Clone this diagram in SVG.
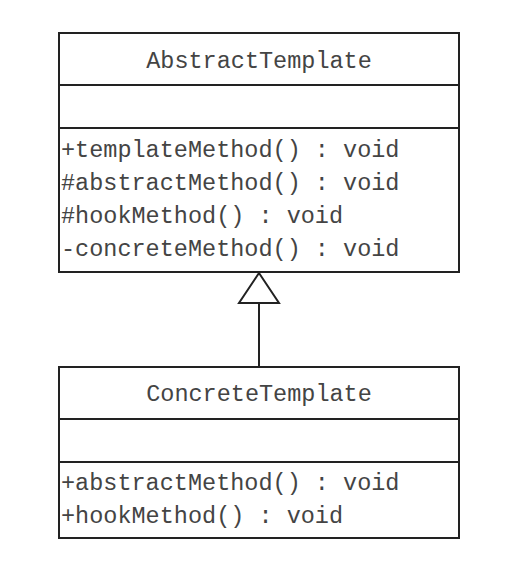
<svg xmlns="http://www.w3.org/2000/svg" width="526" height="570" viewBox="0 0 526 570">
<style>
.box{fill:#fff;stroke:#222;stroke-width:2}
.sep{stroke:#222;stroke-width:2}
.t{font-family:"Liberation Mono","DejaVu Sans Mono",monospace;font-size:23.5px;fill:#444}
.c{text-anchor:middle}
.conn{stroke:#222;stroke-width:2;fill:none}
</style>
<rect width="526" height="570" fill="#fff"/>
<g id="connectors">
<line class="conn" x1="259" y1="303" x2="259" y2="367"/>
<polygon class="conn" points="259,273 239,303 279,303" fill="#fff"/>
</g>
<g id="AbstractTemplate">
<rect class="box" x="59" y="33" width="400" height="239"/>
<line class="sep" x1="59" y1="85" x2="459" y2="85"/>
<line class="sep" x1="59" y1="128" x2="459" y2="128"/>
<text class="t c" x="259" y="68">AbstractTemplate</text>
<text class="t" x="61" y="157">+templateMethod() : void</text>
<text class="t" x="61" y="190">#abstractMethod() : void</text>
<text class="t" x="61" y="223">#hookMethod() : void</text>
<text class="t" x="61" y="256">-concreteMethod() : void</text>
</g>
<g id="ConcreteTemplate">
<rect class="box" x="59" y="367" width="400" height="171"/>
<line class="sep" x1="59" y1="419" x2="459" y2="419"/>
<line class="sep" x1="59" y1="462" x2="459" y2="462"/>
<text class="t c" x="259" y="401">ConcreteTemplate</text>
<text class="t" x="61" y="490">+abstractMethod() : void</text>
<text class="t" x="61" y="523">+hookMethod() : void</text>
</g>
</svg>
